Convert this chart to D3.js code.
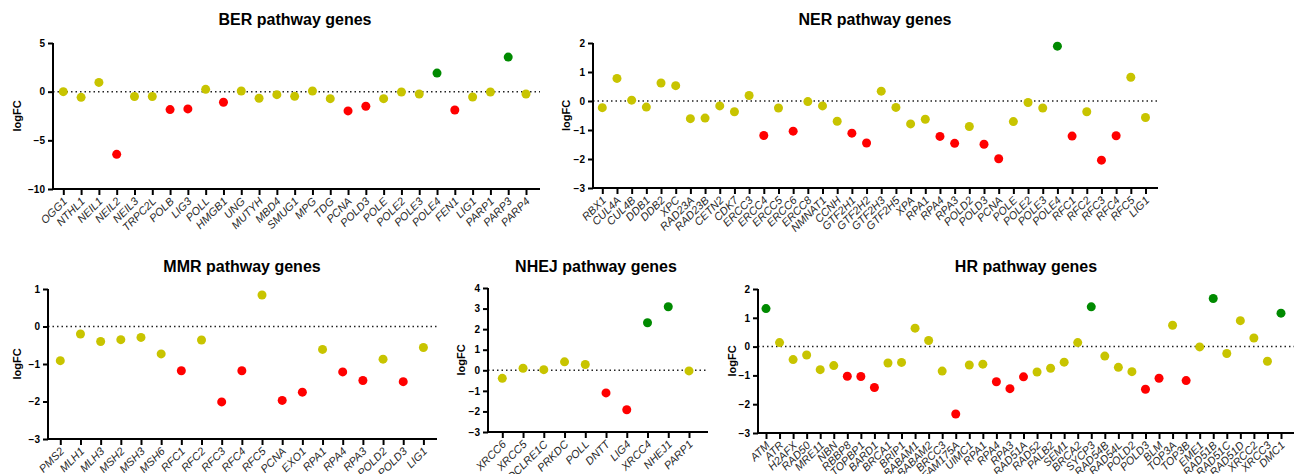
<!DOCTYPE html>
<html>
<head>
<meta charset="utf-8">
<script src="https://cdn.jsdelivr.net/npm/d3@7"></script>
<style>
  body { margin: 0; background: #fff; }
  svg { font-family: "Liberation Sans", Arial, sans-serif; }
</style>
</head>
<body>
<div id="chart"></div>
<script>
// gene lists and logFC values
let berGenes = ['OGG1','NTHL1','NEIL1','NEIL2','NEIL3','TRPC2L','POLB','LIG3','POLL','HMGB1','UNG','MUTYH','MBD4','SMUG1','MPG','TDG','PCNA','POLD3','POLE','POLE2','POLE3','POLE4','FEN1','LIG1','PARP1','PARP3','PARP4'];
let berFC = [0.0,-0.58,0.95,-6.44,-0.5,-0.5,-1.84,-1.77,0.24,-1.09,0.07,-0.68,-0.31,-0.48,0.07,-0.72,-1.98,-1.5,-0.72,-0.03,-0.24,1.91,-1.88,-0.55,-0.03,3.55,-0.24];
let berTicks = [5, 0, -5, -10];

let nerGenes = ['RBX1','CUL4A','CUL4B','DDB1','DDB2','XPC','RAD23A','RAD23B','CETN2','CDK7','ERCC3','ERCC4','ERCC5','ERCC6','ERCC8','NMNAT1','CCNH','GTF2H1','GTF2H2','GTF2H3','GTF2H5','XPA','RPA1','RPA4','RPA3','POLD2','POLD3','PCNA','POLE','POLE2','POLE3','POLE4','RFC1','RFC2','RFC3','RFC4','RFC5','LIG1'];
let nerFC = [-0.23,0.78,0.03,-0.21,0.62,0.53,-0.61,-0.59,-0.17,-0.37,0.19,-1.19,-0.24,-1.04,-0.02,-0.17,-0.70,-1.11,-1.45,0.34,-0.22,-0.79,-0.63,-1.22,-1.46,-0.88,-1.49,-1.99,-0.71,-0.05,-0.24,1.89,-1.21,-0.37,-2.04,-1.20,0.82,-0.57];
let nerTicks = [2, 1, 0, -1, -2, -3];

let mmrGenes = ['PMS2','MLH1','MLH3','MSH2','MSH3','MSH6','RFC1','RFC2','RFC3','RFC4','RFC5','PCNA','EXO1','RPA1','RPA4','RPA3','POLD2','POLD3','LIG1'];
let mmrFC = [-0.91,-0.20,-0.40,-0.35,-0.29,-0.73,-1.18,-0.36,-2.01,-1.18,0.84,-1.97,-1.75,-0.61,-1.21,-1.44,-0.87,-1.47,-0.56];
let mmrTicks = [1, 0, -1, -2, -3];

let nhejGenes = ['XRCC6','XRCC5','DCLRE1C','PRKDC','POLL','DNTT','LIG4','XRCC4','NHEJ1','PARP1'];
let nhejFC = [-0.39,0.10,0.03,0.41,0.28,-1.10,-1.92,2.31,3.09,-0.03];
let nhejTicks = [4, 3, 2, 1, 0, -1, -2, -3];

let hrGenes = ['ATM','ATR','H2AFX','RAD50','MRE11','NBN','RBBP8','TOPBP1','BARD1','BRCA1','BRIP1','BABAM1','BABAM2','BRCC3','FAM175A','UIMC1','RPA1','RPA4','RPA3','RAD51A','RAD52','PALB2','SEM1','BRCA2','SYCP3','RAD54B','RAD54L','POLD2','POLD3','BLM','TOP3A','TOP3B','EME1','RAD51B','RAD51C','RAD51D','XRCC2','XRCC3','DMC1'];
let hrFC = [1.32,0.14,-0.45,-0.29,-0.80,-0.66,-1.03,-1.04,-1.42,-0.57,-0.55,0.64,0.21,-0.85,-2.34,-0.64,-0.61,-1.22,-1.46,-1.05,-0.88,-0.75,-0.54,0.14,1.38,-0.33,-0.72,-0.87,-1.48,-1.10,0.74,-1.18,-0.01,1.67,-0.24,0.90,0.30,-0.51,1.16];
let hrTicks = [2, 1, 0, -1, -2, -3];

let colUp = '#008a00', colDown = '#ff0000', colNs = '#c8c400';
let dotColor = v => v > 1 ? colUp : (v < -1 ? colDown : colNs);

let svg = d3.select('#chart').append('svg')
  .attr('width', 1306)
  .attr('height', 474);

// layout of each panel on the page
let panels = [
  { title: 'BER pathway genes', genes: berGenes, fc: berFC, ticks: berTicks,
    ax: 53, x0: 63.3, x1: 526, xEnd: 540, yTop: 43, yBot: 189, titleX: 295, titleY: 25, labX: 17 },
  { title: 'NER pathway genes', genes: nerGenes, fc: nerFC, ticks: nerTicks,
    ax: 593, x0: 602.3, x1: 1145.5, xEnd: 1158, yTop: 43, yBot: 188, titleX: 875, titleY: 25, labX: 566 },
  { title: 'MMR pathway genes', genes: mmrGenes, fc: mmrFC, ticks: mmrTicks,
    ax: 48, x0: 60.3, x1: 423.4, xEnd: 437, yTop: 289, yBot: 439, titleX: 242, titleY: 272, labX: 17 },
  { title: 'NHEJ pathway genes', genes: nhejGenes, fc: nhejFC, ticks: nhejTicks,
    ax: 488, x0: 502.3, x1: 689, xEnd: 708, yTop: 288, yBot: 432, titleX: 596, titleY: 272, labX: 461 },
  { title: 'HR pathway genes', genes: hrGenes, fc: hrFC, ticks: hrTicks,
    ax: 758, x0: 766, x1: 1281, xEnd: 1294, yTop: 289, yBot: 433, titleX: 1026, titleY: 272, labX: 732 }
];

panels.forEach(p => {
  let g = svg.append('g');

  let xScale = d3.scalePoint()
    .domain(p.genes)
    .range([p.x0, p.x1]);

  let yScale = d3.scaleLinear()
    .domain([d3.min(p.ticks), d3.max(p.ticks)])
    .range([p.yBot, p.yTop]);

  // title
  g.append('text')
    .attr('x', p.titleX)
    .attr('y', p.titleY)
    .attr('text-anchor', 'middle')
    .style('font-size', '16px')
    .style('font-weight', 'bold')
    .text(p.title);

  // zero line
  g.append('line')
    .attr('x1', p.ax).attr('x2', p.xEnd)
    .attr('y1', yScale(0)).attr('y2', yScale(0))
    .attr('stroke', '#222')
    .attr('stroke-width', 1.5)
    .attr('stroke-dasharray', '1.5,3');

  // y axis
  let yAxis = d3.axisLeft(yScale).tickValues(p.ticks).tickFormat(d3.format('d'))
    .tickSize(5).tickSizeOuter(0).tickPadding(3);
  let ya = g.append('g')
    .attr('transform', `translate(${p.ax},0)`)
    .call(yAxis);
  ya.select('.domain').remove();
  ya.selectAll('line').attr('stroke', '#000').attr('stroke-width', 2);
  ya.selectAll('text')
    .style('font-size', '10px')
    .style('font-weight', 'bold')
    .attr('fill', '#000');

  // x axis
  let xAxis = d3.axisBottom(xScale).tickSize(6).tickSizeOuter(0);
  let xa = g.append('g')
    .attr('transform', `translate(0,${p.yBot})`)
    .call(xAxis);
  xa.select('.domain').remove();
  xa.selectAll('line').attr('stroke', '#000').attr('stroke-width', 2);
  xa.selectAll('text')
    .attr('text-anchor', 'end')
    .attr('dy', null)
    .attr('y', 0)
    .attr('transform', 'translate(4,13) rotate(-45)')
    .style('font-size', '11px')
    .style('font-style', 'italic')
    .attr('fill', '#2a2a2a');

  // axis lines
  g.append('line')
    .attr('x1', p.ax).attr('x2', p.ax)
    .attr('y1', p.yTop).attr('y2', p.yBot + 1)
    .attr('stroke', '#000').attr('stroke-width', 2);
  g.append('line')
    .attr('x1', p.ax - 1).attr('x2', p.xEnd)
    .attr('y1', p.yBot).attr('y2', p.yBot)
    .attr('stroke', '#000').attr('stroke-width', 2);

  // y label
  g.append('text')
    .attr('transform', `translate(${p.labX},${(p.yTop + p.yBot) / 2}) rotate(-90)`)
    .attr('text-anchor', 'middle')
    .attr('dy', '0.35em')
    .style('font-size', '11px')
    .style('font-weight', 'bold')
    .text('logFC');

  // dots
  g.selectAll('circle')
    .data(p.genes.map((gene, i) => ({ gene: gene, v: p.fc[i] })))
    .enter().append('circle')
    .attr('cx', d => xScale(d.gene))
    .attr('cy', d => yScale(d.v))
    .attr('r', 4.5)
    .attr('fill', d => dotColor(d.v));
});
</script>
</body>
</html>
